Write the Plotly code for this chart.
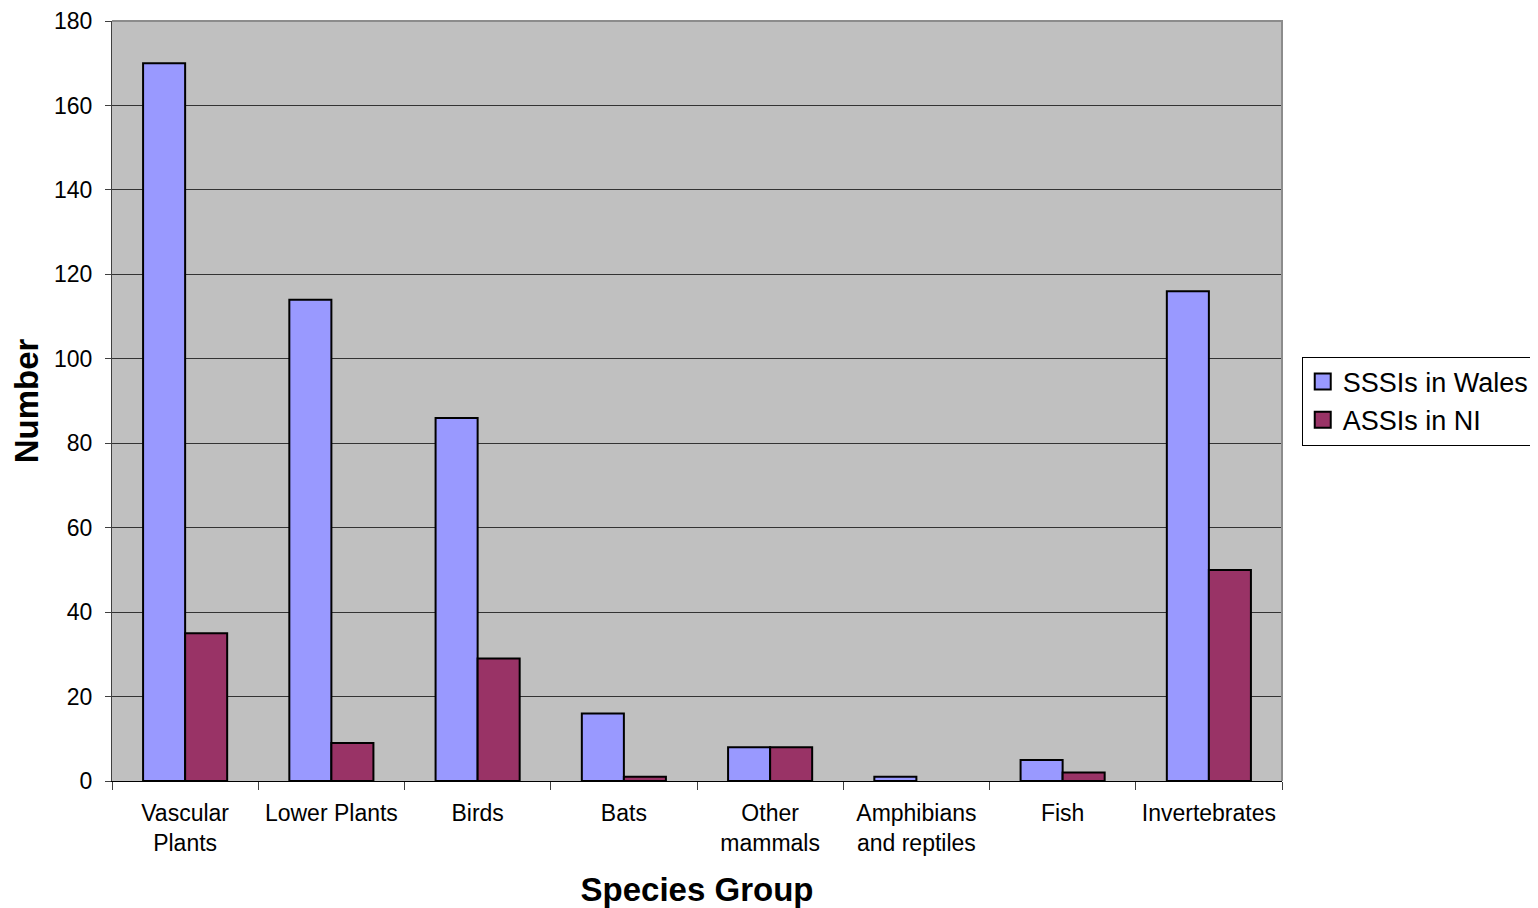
import plotly.graph_objects as go

categories = ["Vascular<br>Plants", "Lower Plants", "Birds", "Bats", "Other<br>mammals",
              "Amphibians<br>and reptiles", "Fish", "Invertebrates"]
sssi_wales = [170, 114, 86, 16, 8, 1, 5, 116]
assi_ni = [35, 9, 29, 1, 8, 0, 2, 50]
y_ticks = [0, 20, 40, 60, 80, 100, 120, 140, 160, 180]

FONT = "Arial, Liberation Sans, sans-serif"
BLUE = "#9999FF"
RED = "#993366"

def outline(vals):
    return [2 if v else 0 for v in vals]

fig = go.Figure()
fig.add_trace(go.Bar(x=categories, y=sssi_wales, name="SSSIs in Wales", showlegend=False,
                     marker=dict(color=BLUE, line=dict(color="black", width=outline(sssi_wales)))))
fig.add_trace(go.Bar(x=categories, y=assi_ni, name="ASSIs in NI", showlegend=False,
                     marker=dict(color=RED, line=dict(color="black", width=outline(assi_ni)))))
# legend entries with square swatches
for nm, col in [("SSSIs in Wales", BLUE), ("ASSIs in NI", RED)]:
    fig.add_trace(go.Scatter(x=[None], y=[None], mode="markers", name=nm,
                             marker=dict(symbol="square", size=16, color=col,
                                         line=dict(color="black", width=2))))

fig.update_layout(
    width=1538, height=908,
    margin=dict(l=104, r=263, t=13, b=135),
    paper_bgcolor="white", plot_bgcolor="#C0C0C0",
    barmode="group", bargap=0.425, bargroupgap=0,
    font=dict(family=FONT, color="black", size=23),
    legend=dict(x=1.016, y=0.5, xanchor="left", yanchor="middle",
                bgcolor="white", bordercolor="black", borderwidth=1,
                font=dict(size=27, family=FONT), tracegroupgap=0,
                itemwidth=30),
    showlegend=True,
    shapes=[dict(type="path", xref="paper", yref="paper", path="M0,1 L1,1 L1,0",
                 line=dict(color="#8C8C8C", width=2), layer="above")],
)
fig.update_xaxes(
    showline=True, linecolor="black", linewidth=1,
    ticks="outside", tickson="boundaries", ticklen=8, tickcolor="#404040",
    showgrid=False, automargin=False, ticklabelstandoff=11,
    title=dict(text="<b>Species Group</b>", font=dict(size=33, family=FONT), standoff=23),
    tickfont=dict(size=23, family=FONT),
)
fig.update_yaxes(
    range=[0, 180], tickvals=y_ticks,
    showline=True, linecolor="#404040", linewidth=1,
    ticks="outside", ticklen=6, tickcolor="#404040", ticklabelstandoff=8,
    showgrid=True, gridcolor="#333333", gridwidth=1, zeroline=False, automargin=False,
    title=dict(text="<b>Number</b>", font=dict(size=33, family=FONT), standoff=17),
    tickfont=dict(size=23, family=FONT),
)

fig.write_html("out.html")
